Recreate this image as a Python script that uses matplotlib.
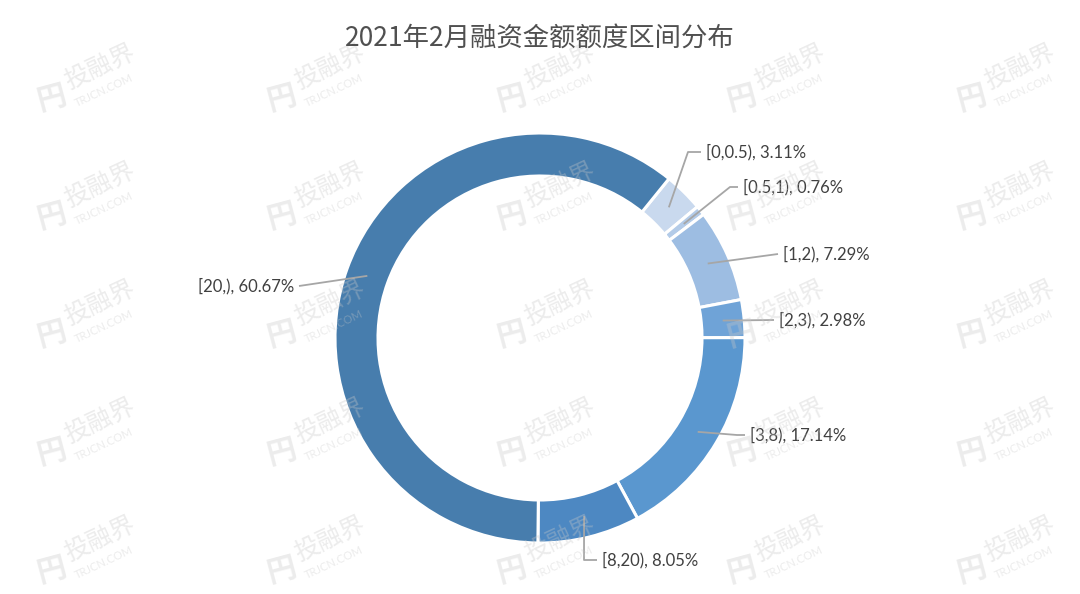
"""2021年2月融资金额额度区间分布 — donut chart."""
import numpy as np
import matplotlib
matplotlib.use("Agg")
import matplotlib.pyplot as plt

plt.rcParams["font.family"] = ["Lato", "Noto Sans CJK SC", "DejaVu Sans"]

# ── data ─────────────────────────────────────────────────────────────────
CATEGORIES = ["[0,0.5)", "[0.5,1)", "[1,2)", "[2,3)", "[3,8)", "[8,20)", "[20,)"]
SHARES = [3.11, 0.76, 7.29, 2.98, 17.14, 8.05, 60.67]
COLORS = ["#C9D9EE", "#B3CBE8", "#9DBDE2", "#6FA3D7", "#5A97CF", "#4D88C2", "#477DAD"]
TITLE = "2021年2月融资金额额度区间分布"

# label layout in pixels (top-left origin): text x, text y, align, elbow length
LABEL_POS = [
    (706, 152, "left", 13),
    (743, 187, "left", 8),
    (783, 254, "left", 0),
    (779, 320, "left", 0),
    (750, 435, "left", 8),
    (602, 560, "left", 13),
    (294, 286, "right", 0),
]

W, H = 1080, 594
CX, CY = 540, 338
R_OUT, RING = 205, 43


def main():
    fig = plt.figure(figsize=(W / 100, H / 100), dpi=100)
    ax = fig.add_axes([0, 0, 1, 1])
    ax.set_xlim(0, W)
    ax.set_ylim(0, H)
    ax.axis("off")

    wedges, _ = ax.pie(
        SHARES, colors=COLORS, startangle=51, counterclock=False,
        center=(CX, H - CY), radius=R_OUT,
        wedgeprops=dict(width=RING, edgecolor="white", linewidth=2.2),
    )
    ax.set_xlim(0, W)
    ax.set_ylim(0, H)
    ax.set_aspect("equal")

    r_mid = R_OUT - RING / 2
    for w, cat, val, (tx, ty, ha, seg) in zip(wedges, CATEGORIES, SHARES, LABEL_POS):
        ang = np.deg2rad((w.theta1 + w.theta2) / 2)
        x0 = CX + r_mid * np.cos(ang)
        y0 = (H - CY) + r_mid * np.sin(ang)
        sign = 1 if ha == "left" else -1
        gap = 5
        xe = tx - sign * (gap + seg)
        xs = tx - sign * gap
        ax.plot([x0, xe, xs], [y0, H - ty, H - ty], color="#A6A6A6", lw=1.3,
                solid_capstyle="butt", zorder=3)
        ax.text(tx, H - ty, f"{cat}, {val:.2f}%", ha=ha, va="center",
                fontsize=12, color="#404040", zorder=4)

    fig.text(0.5, 1 - 38 / H, TITLE, ha="center", va="center", fontsize=19,
             color="#505050", family=["Noto Sans CJK SC", "DejaVu Sans"])

    # watermark grid
    wm = dict(color="#c8c8c8", alpha=0.35, zorder=5)
    for row in range(5):
        for col in range(5):
            x = 100 + col * 230
            y = 68 + row * 118
            ax.text(x, H - y, "投融界", rotation=25, ha="center", va="center",
                    fontsize=18, family=["Noto Sans CJK SC"], **wm)
            ax.text(x + 4, H - y - 22, "TRJCN.COM", rotation=25, ha="center",
                    va="center", fontsize=8, **wm)
            ax.text(x - 48, H - y - 30, "円", rotation=15, ha="center",
                    va="center", fontsize=21, fontweight="bold",
                    family=["Noto Sans CJK SC"], **wm)

    fig.savefig("out.png", dpi=100, facecolor="white")
    plt.close(fig)


if __name__ == "__main__":
    main()
